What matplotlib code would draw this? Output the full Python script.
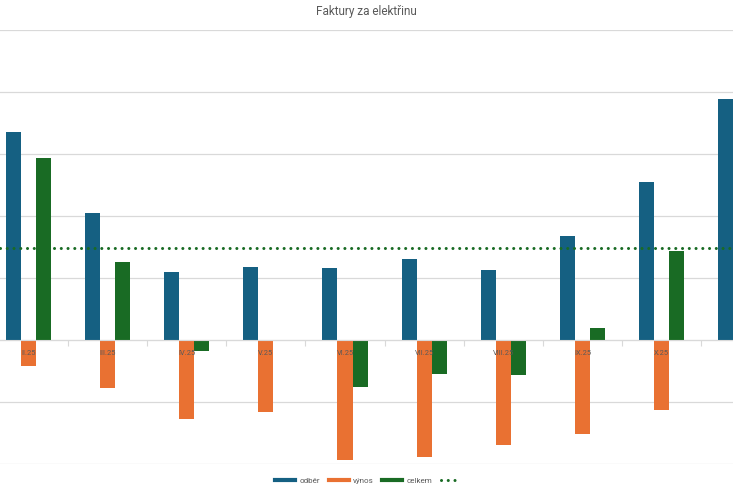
import numpy as np
import matplotlib
matplotlib.use("Agg")
import matplotlib.pyplot as plt
from matplotlib.lines import Line2D

plt.rcParams['font.family'] = ['Roboto', 'DejaVu Sans']

# data (values in thousands; gridline step = 1)
months = ['II.25', 'III.25', 'IV.25', 'V.25', 'VI.25', 'VII.25',
          'VIII.25', 'IX.25', 'X.25', 'XI.25']
odber = [3.35, 2.05, 1.09, 1.18, 1.16, 1.31, 1.13, 1.68, 2.55, 3.89]
vynos = [-0.42, -0.77, -1.28, -1.16, -1.94, -1.89, -1.69, -1.52, -1.13, np.nan]
celkem = [2.94, 1.26, -0.18, -0.02, -0.75, -0.55, -0.56, 0.19, 1.43, np.nan]
prumer = 1.48

c_blue = '#156082'
c_orange = '#E97132'
c_green = '#196B24'

fig = plt.figure(figsize=(7.33, 4.88), dpi=100)
ax = fig.add_axes([0.0, 24 / 488, 1.0, 434 / 488])

x = np.arange(len(months))
w = 0.19
ax.bar(x - w, odber, w, color=c_blue, zorder=2)
ax.bar(x, vynos, w, color=c_orange, zorder=2)
ax.bar(x + w, celkem, w, color=c_green, zorder=2)
ax.axhline(prumer, color=c_green, lw=2.2, linestyle=(0, (0.01, 2.2)),
           dash_capstyle='round', zorder=3)

ax.set_yticks(np.arange(-2, 6, 1))
ax.yaxis.grid(True, color='#d9d9d9', lw=0.9)
ax.set_axisbelow(True)
ax.tick_params(axis='y', length=0, labelleft=False)

for s in ['top', 'right', 'left']:
    ax.spines[s].set_visible(False)
ax.spines['bottom'].set_position(('data', 0))
ax.spines['bottom'].set_color('#d9d9d9')
ax.set_xticks(np.arange(-0.5, len(months), 1))
ax.tick_params(axis='x', length=4, color='#d9d9d9', labelbottom=False)

# the visible part of the chart is cropped on both sides
ax.set_xlim(-0.357, 8.9)
ax.set_ylim(-2, 5)

for i, m in enumerate(months):
    ax.annotate(m, (i, 0), xytext=(0, -10), textcoords='offset points',
                ha='center', va='center', fontsize=5.3, color='#595959',
                zorder=5, annotation_clip=True)

fig.text(0.5, 1 - 12 / 488, 'Faktury za elektřinu', ha='center', va='center',
         fontsize=8.5, color='#595959')

handles = [
    Line2D([], [], color=c_blue, lw=3),
    Line2D([], [], color=c_orange, lw=3),
    Line2D([], [], color=c_green, lw=3),
    Line2D([], [], color=c_green, lw=2.2, linestyle=(0, (0.01, 2.2)),
           dash_capstyle='round'),
]
fig.legend(handles, ['odběr', 'výnos', 'celkem', ''], loc='center',
           bbox_to_anchor=(0.505, 1 - 481 / 488), ncol=4, frameon=False,
           fontsize=5.8, labelcolor='#595959', handlelength=2.5,
           handletextpad=0.5, columnspacing=1.1)

fig.savefig('out.png', dpi=100)
